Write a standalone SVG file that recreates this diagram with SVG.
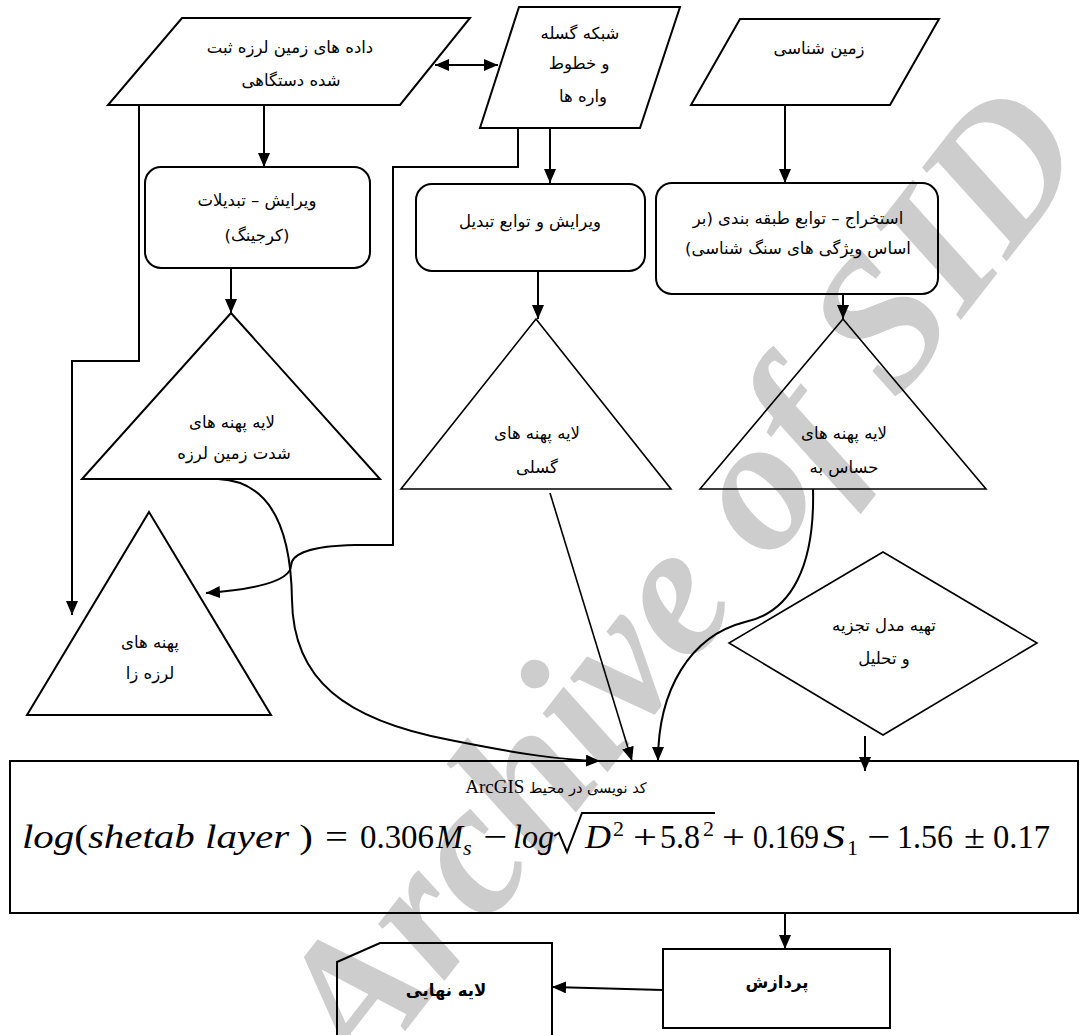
<svg xmlns="http://www.w3.org/2000/svg" width="1086" height="1035" viewBox="0 0 1086 1035">
<style>
.bg{fill:#ffffff}
.wm{font-family:"Liberation Serif",serif;font-style:italic;font-weight:bold;font-size:190px;fill:#cdcdcd}
.sh{fill:none;stroke:#000;stroke-width:2}
.thin{fill:none;stroke:#000;stroke-width:1.6}
.t{font-family:"DejaVu Sans","Noto Sans",sans-serif;font-size:16.5px;fill:#000;text-anchor:middle;direction:rtl;unicode-bidi:embed}
.b{font-weight:bold}
.c{fill:none;stroke:#000;stroke-width:2}
.c1{fill:none;stroke:#000;stroke-width:1.6}
.f{font-family:"Liberation Serif",serif;font-size:34px;fill:#000}
.i{font-style:italic}
.sub{font-size:22px}
</style>
<defs>
<marker id="ah" markerUnits="userSpaceOnUse" markerWidth="14" markerHeight="12" viewBox="0 0 14 12" refX="14" refY="6" orient="auto-start-reverse">
<path d="M0,0 L14,6 L0,12 Z" fill="#000"/>
</marker>
</defs>
<rect class="bg" x="0" y="0" width="1086" height="1035"/>
<text class="wm" transform="translate(728,618) rotate(-52)" text-anchor="middle">Archive of SID</text>

<g id="connectors">
<line class="c" x1="435" y1="65" x2="498" y2="65" marker-start="url(#ah)" marker-end="url(#ah)"/>
<line class="c" x1="264" y1="105" x2="264" y2="167" marker-end="url(#ah)"/>
<line class="c" x1="550" y1="128" x2="550" y2="183" marker-end="url(#ah)"/>
<line class="c" x1="785" y1="105" x2="785" y2="183" marker-end="url(#ah)"/>
<line class="c" x1="231" y1="268" x2="231" y2="313" marker-end="url(#ah)"/>
<line class="c" x1="538" y1="271" x2="538" y2="319" marker-end="url(#ah)"/>
<line class="c" x1="843" y1="294" x2="843" y2="319" marker-end="url(#ah)"/>
<path class="c" d="M139,105 L139,361 L72,361 L72,615" marker-end="url(#ah)"/>
<path class="c" d="M518,128 L518,167 L393,167 L393,545 L355,545 C305,546 291,556 291,566 C290,582 250,590 206,593" marker-end="url(#ah)"/>
<path class="c" d="M218,479 C272,481 291,530 292,600 C293,680 345,720 450,740 C520,754 560,760 600,761" marker-end="url(#ah)"/>
<line class="c1" x1="550" y1="493" x2="632" y2="761" marker-end="url(#ah)"/>
<path class="c" d="M813,489 C815,565 792,612 745,622 C690,636 658,690 658,761" marker-end="url(#ah)"/>
<line class="c" x1="865" y1="736" x2="865" y2="771" marker-end="url(#ah)"/>
<line class="c" x1="785" y1="913" x2="785" y2="949" marker-end="url(#ah)"/>
<line class="c" x1="663" y1="990" x2="552" y2="987" marker-end="url(#ah)"/>
</g>

<g id="n-data">
<polygon class="sh" points="182,18 470,18 400,105 108,105"/>
<text class="t" x="290" y="53">داده های زمین لرزه ثبت</text>
<text class="t" x="291" y="86">شده دستگاهی</text>
</g>
<g id="n-fault">
<polygon class="sh" points="519,7 680,7 640,128 480,128"/>
<text class="t" x="580" y="39">شبکه گسله</text>
<text class="t" x="579" y="69">و خطوط</text>
<text class="t" x="583" y="102">واره ها</text>
</g>
<g id="n-geology">
<polygon class="sh" points="740,19 939,19 890,105 691,105"/>
<text class="t" x="819" y="54">زمین شناسی</text>
</g>
<g id="n-edit1">
<rect class="sh" x="145" y="167" width="225" height="101" rx="16"/>
<text class="t" x="257" y="206">ویرایش – تبدیلات</text>
<text class="t" x="257" y="241">(کرجینگ)</text>
</g>
<g id="n-edit2">
<rect class="sh" x="416" y="184" width="229" height="87" rx="16"/>
<text class="t" x="530" y="227">ویرایش و توابع  تبدیل</text>
</g>
<g id="n-extract">
<rect class="sh" x="656" y="183" width="282" height="111" rx="16"/>
<text class="t" x="798" y="224">استخراج – توابع طبقه بندی (بر</text>
<text class="t" x="798" y="254">اساس ویژگی های سنگ شناسی)</text>
</g>
<g id="n-tri-intensity">
<polygon class="sh" points="231,313 380,479 82,479"/>
<text class="t" x="232" y="428">لایه پهنه های</text>
<text class="t" x="234" y="459">شدت زمین لرزه</text>
</g>
<g id="n-tri-seismogenic">
<polygon class="sh" points="149,512 271,715 27,715"/>
<text class="t" x="150" y="648">پهنه های</text>
<text class="t" x="150" y="679">لرزه زا</text>
</g>
<g id="n-tri-fault">
<polygon class="thin" points="536,319 671,489 401,489"/>
<text class="t" x="537" y="439">لایه پهنه های</text>
<text class="t" x="537" y="473">گسلی</text>
</g>
<g id="n-tri-sensitive">
<polygon class="thin" points="843,319 986,489 700,489"/>
<text class="t" x="844" y="439">لایه پهنه های</text>
<text class="t" x="844" y="473">حساس به</text>
</g>
<g id="n-model">
<polygon class="thin" points="883,552 1037,643 883,735 729,643"/>
<text class="t" x="884" y="631">تهیه مدل تجزیه</text>
<text class="t" x="884" y="664">و تحلیل</text>
</g>
<g id="n-code">
<rect class="sh" x="10" y="761" width="1068" height="152"/>
<text class="t" x="556" y="793" style="font-size:14.5px">کد نویسی در محیط  <tspan style="font-family:'Liberation Serif',serif;font-size:19px">ArcGIS</tspan></text>
<text class="f" x="22" y="848" textLength="291" lengthAdjust="spacingAndGlyphs"><tspan class="i">log</tspan>(<tspan class="i">shetab layer</tspan> )</text>
<text class="f" x="325" y="848" textLength="23" lengthAdjust="spacingAndGlyphs">=</text>
<text class="f" x="360" y="848" textLength="74" lengthAdjust="spacingAndGlyphs">0.306</text>
<text class="f i" x="436" y="848" textLength="27" lengthAdjust="spacingAndGlyphs">M</text>
<text class="f i sub" x="463" y="855">s</text>
<text class="f" x="483" y="848" textLength="24" lengthAdjust="spacingAndGlyphs">−</text>
<text class="f i" x="513" y="848" textLength="41" lengthAdjust="spacingAndGlyphs">log</text>
<path d="M554,836 L559,833 L567,852 L582,813 L715,813" fill="none" stroke="#000" stroke-width="2"/>
<text class="f i" x="585" y="848" textLength="26" lengthAdjust="spacingAndGlyphs">D</text>
<text class="f sub" x="613" y="836">2</text>
<text class="f" x="633" y="848" textLength="24" lengthAdjust="spacingAndGlyphs">+</text>
<text class="f" x="660" y="848" textLength="40" lengthAdjust="spacingAndGlyphs">5.8</text>
<text class="f sub" x="703" y="836">2</text>
<text class="f" x="722" y="848" textLength="23" lengthAdjust="spacingAndGlyphs">+</text>
<text class="f" x="753" y="848" textLength="66" lengthAdjust="spacingAndGlyphs">0.169</text>
<text class="f i" x="823" y="848" textLength="22" lengthAdjust="spacingAndGlyphs">S</text>
<text class="f sub" x="847" y="855">1</text>
<text class="f" x="867" y="848" textLength="23" lengthAdjust="spacingAndGlyphs">−</text>
<text class="f" x="897" y="848" textLength="56" lengthAdjust="spacingAndGlyphs">1.56</text>
<text class="f" x="964" y="848" textLength="21" lengthAdjust="spacingAndGlyphs">±</text>
<text class="f" x="993" y="848" textLength="57" lengthAdjust="spacingAndGlyphs">0.17</text>
</g>
<g id="n-process">
<rect class="sh" x="663" y="949" width="227" height="79"/>
<text class="t b" x="777" y="988">پردازش</text>
</g>
<g id="n-final">
<polygon class="sh" points="337,962 380,943 552,943 552,1045 337,1045"/>
<text class="t b" x="446" y="996">لایه نهایی</text>
</g>
</svg>
